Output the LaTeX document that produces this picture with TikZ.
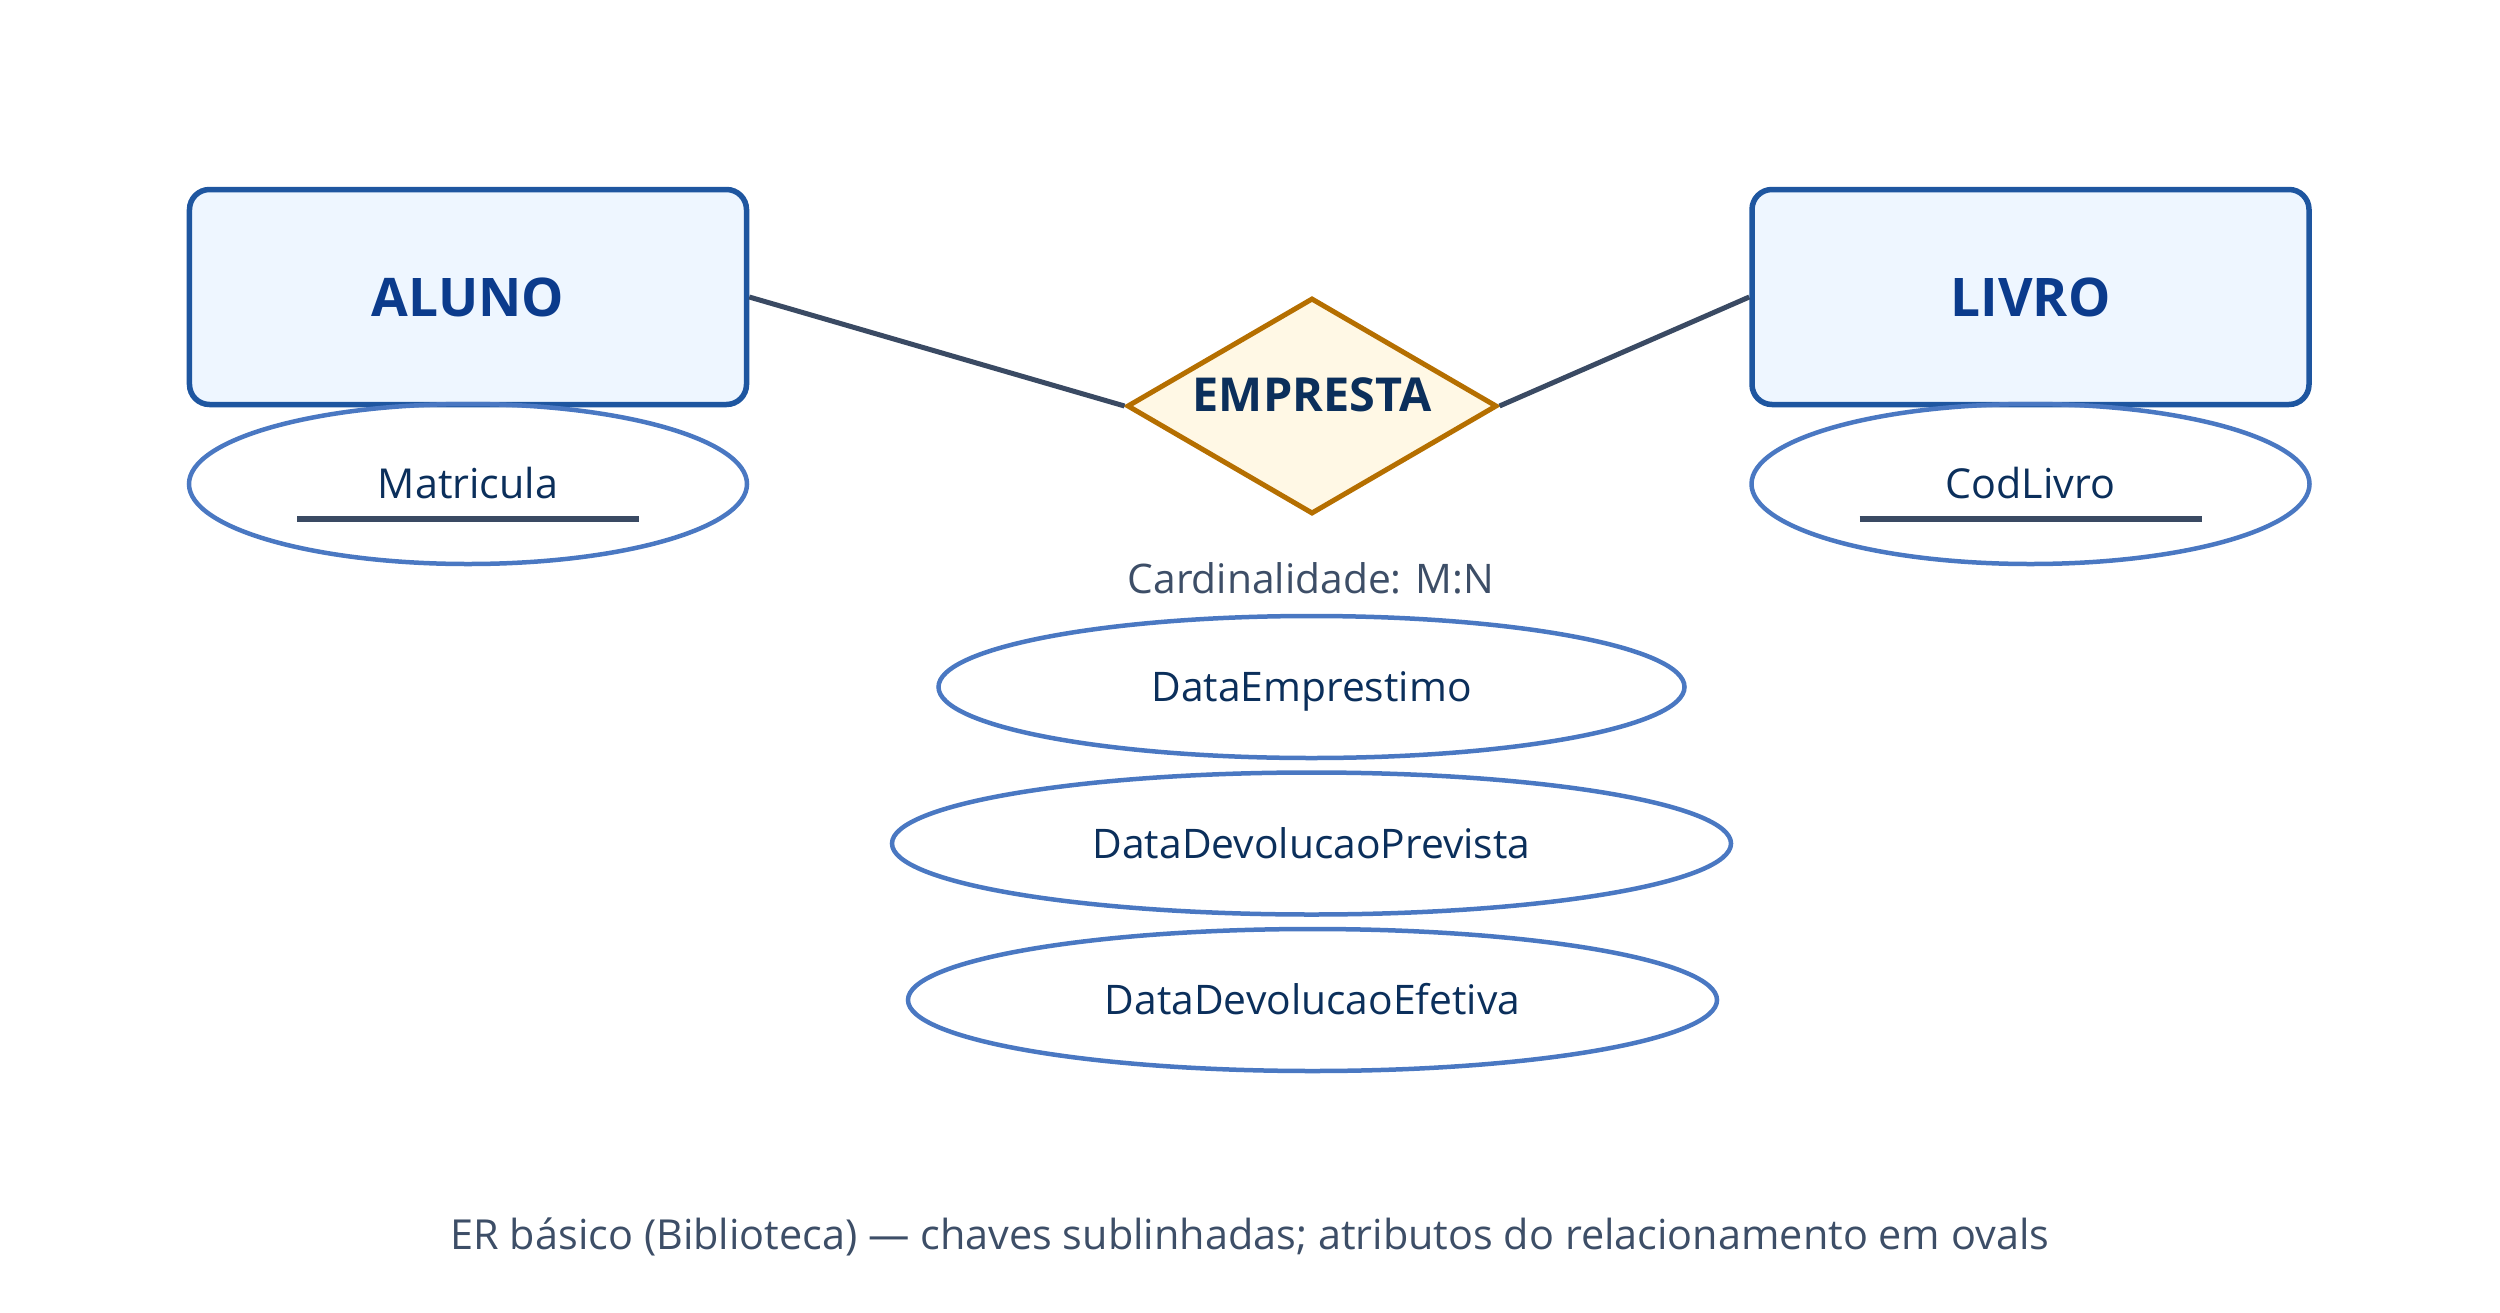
\documentclass[tikz,border=0pt]{standalone}
\usepackage{fontspec}
\setmainfont{Open Sans}
\usetikzlibrary{shapes.geometric}
\definecolor{entfill}{HTML}{EEF6FF}
\definecolor{entdraw}{HTML}{1E56A0}
\definecolor{enttext}{HTML}{0B3B8C}
\definecolor{attdraw}{HTML}{4A78C2}
\definecolor{atttext}{HTML}{0B2F5B}
\definecolor{relfill}{HTML}{FFF8E5}
\definecolor{reldraw}{HTML}{B56F00}
\definecolor{linecol}{HTML}{3A4A63}
\definecolor{graytext}{HTML}{3D4E67}
\tikzset{
  entity/.style={draw=entdraw, fill=entfill, line width=2.2pt, rounded corners=8pt,
    minimum width=222.8pt, minimum height=86pt, inner sep=0pt,
    text=enttext, font=\fontsize{21.3}{25}\selectfont\bfseries,
    text height=15.2pt, text depth=0pt},
  keyattr/.style={ellipse, draw=attdraw, line width=1.8pt, inner sep=0pt,
    minimum width=223.2pt, minimum height=64pt, text=atttext,
    font=\fontsize{16.5}{20}\selectfont, text height=11.8pt, text depth=0pt},
  relattr/.style={ellipse, draw=attdraw, line width=1.8pt, inner sep=0pt,
    minimum height=56.8pt, text=atttext,
    font=\fontsize{16.3}{19}\selectfont, text height=11.6pt, text depth=0pt},
  relation/.style={diamond, draw=reldraw, fill=relfill, line width=2pt, inner sep=0pt,
    aspect=1.713, minimum width=148pt, minimum height=86.4pt, text=atttext,
    font=\fontsize{18.7}{22}\selectfont\bfseries, text height=13.3pt, text depth=8.8pt},
  conn/.style={draw=linecol, line width=2pt},
  keyline/.style={draw=linecol, line width=2.4pt},
  note/.style={text=graytext, inner sep=0pt, anchor=base}
}
\begin{document}
\begin{tikzpicture}[x=0.4pt, y=-0.4pt]
\useasboundingbox (0,0) rectangle (2500,1313);
\node[entity] (aluno) at (468,297) {ALUNO};
\node[entity] (livro) at (2030.5,297) {LIVRO};
\node[relation] (rel) at (1312,406) {EMPRESTA};
\draw[conn] (aluno.east) -- (rel.west);
\draw[conn] (livro.west) -- (rel.east);
\node[keyattr] (mat) at (468,484) {Matricula};
\node[keyattr] (cod) at (2030.5,484) {CodLivro};
\draw[keyline] ([xshift=-68.4pt,yshift=-14pt]mat.center) -- ([xshift=68.4pt,yshift=-14pt]mat.center);
\draw[keyline] ([xshift=-68.4pt,yshift=-14pt]cod.center) -- ([xshift=68.4pt,yshift=-14pt]cod.center);
\node[note, font=\fontsize{16.3}{19}\selectfont] (card) at (1311,593) {Cardinalidade: M:N};
\node[relattr, minimum width=298.4pt] (a1) at (1311.5,687) {DataEmprestimo};
\node[relattr, minimum width=335.6pt] (a2) at (1311.5,843.5) {DataDevolucaoPrevista};
\node[relattr, minimum width=323.6pt] (a3) at (1312.5,1000) {DataDevolucaoEfetiva};
\node[note, font=\fontsize{16.55}{19}\selectfont] (cap) at (1250,1249) {ER básico (Biblioteca) — chaves sublinhadas; atributos do relacionamento em ovals};
\end{tikzpicture}
\end{document}
